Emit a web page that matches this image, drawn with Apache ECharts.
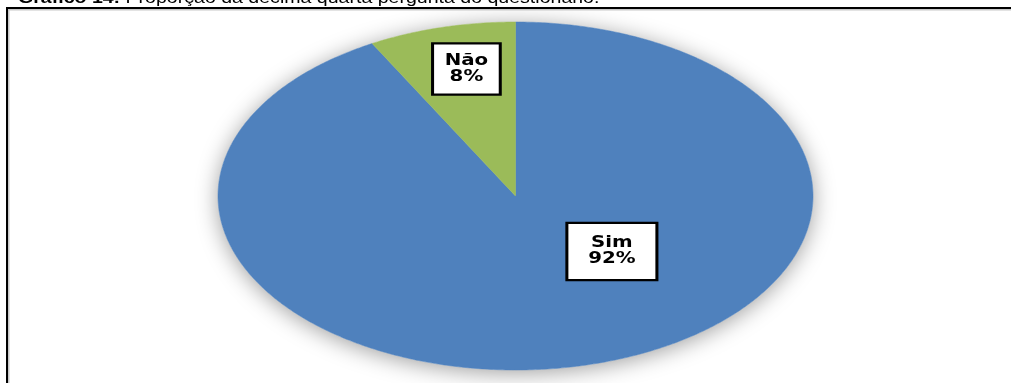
<!DOCTYPE html>
<html>
<head>
<meta charset="utf-8">
<script src="https://cdn.jsdelivr.net/npm/echarts@6/dist/echarts.min.js"></script>
<style>
  html, body { margin: 0; padding: 0; background: #fff; }
  #chart { width: 1011px; height: 383px; }
</style>
</head>
<body>
<div id="chart"></div>
<script>
// Answers to question 14
const categories = ['Sim', 'Não'];
const values = [92, 8];
const colors = ['#4F81BD', '#9BBB59'];

// Elliptical pie layout
const CX = 515.5, CY = 196, RX = 297.5, RY = 174;
// Label centres, as fractions of the radii from the centre
const labelAnchor = [[0.324, 0.319], [-0.165, -0.73]];
const labelPadding = [[11.5, 15], [8.5, 8]];
const TEXT_STRETCH = 1.32;

const total = values.reduce((a, b) => a + b, 0);
const starts = [];
values.reduce((acc, v, i) => { starts[i] = acc; return acc + v; }, 0);

function ellipsePoint(t) {
  // t measured clockwise from 12 o'clock
  return [CX + RX * Math.sin(t), CY - RY * Math.cos(t)];
}

function arcPoints(a0, a1, withCentre) {
  const pts = withCentre ? [[CX, CY]] : [];
  const n = Math.max(8, Math.ceil((a1 - a0) / 0.01));
  for (let k = 0; k <= n; k++) pts.push(ellipsePoint(a0 + (a1 - a0) * k / n));
  return pts;
}

function renderItem(params, api) {
  const i = params.dataIndex;
  const v = api.value(1);
  const a0 = starts[i] / total * Math.PI * 2;
  const a1 = (starts[i] + v) / total * Math.PI * 2;
  const children = [];
  if (i === 0) {
    // soft shadow under the whole pie
    children.push({
      type: 'polygon',
      shape: { points: arcPoints(0, Math.PI * 2, false) },
      style: { fill: '#ffffff', shadowBlur: 22, shadowColor: 'rgba(0,0,0,0.38)', shadowOffsetY: 3 },
      silent: true
    });
  }
  children.push({
    type: 'polygon',
    shape: { points: arcPoints(a0, a1, true) },
    style: { fill: colors[i], stroke: colors[i], lineWidth: 0.5 }
  });
  return { type: 'group', children: children };
}

function renderLabel(params, api) {
  const i = params.dataIndex;
  const v = api.value(1);
  const pct = Math.round(v / total * 100) + '%';
  return {
    type: 'text',
    x: CX + labelAnchor[i][0] * RX,
    y: CY + labelAnchor[i][1] * RY,
    scaleX: TEXT_STRETCH,
    z2: 10,
    style: {
      text: categories[i] + '\n' + pct,
      font: 'bold 15px "DejaVu Sans"',
      lineHeight: 16,
      fill: '#000',
      align: 'center',
      verticalAlign: 'middle',
      backgroundColor: '#fff',
      borderColor: '#000',
      borderWidth: 2.3,
      padding: labelPadding[i]
    }
  };
}

const seriesData = categories.map((c, i) => [c, values[i]]);

const chart = echarts.init(document.getElementById('chart'), null, { renderer: 'canvas' });
chart.setOption({
  backgroundColor: '#ffffff',
  animation: false,
  xAxis: { show: false, type: 'category', data: categories },
  yAxis: { show: false, type: 'value' },
  grid: { left: 0, right: 0, top: 0, bottom: 0 },
  series: [
    { type: 'custom', renderItem: renderItem, data: seriesData, z: 1 },
    { type: 'custom', renderItem: renderLabel, data: seriesData, z: 5 }
  ],
  graphic: [
    {
      type: 'text',
      x: 18, y: -1.5,
      scaleX: 1.15,
      style: {
        text: '{b|Gráfico 14:} Proporção da décima quarta pergunta do questionário.',
        font: '17px "Liberation Sans"',
        fill: '#000',
        verticalAlign: 'middle',
        rich: { b: { font: 'bold 17px "Liberation Sans"', fill: '#000' } }
      },
      z: 20
    },
    {
      type: 'polyline',
      shape: { points: [[1011, 9.75], [8.75, 9.75], [8.75, 383]] },
      style: { stroke: '#c8c8c8', lineWidth: 1.5, fill: null },
      z: 19
    },
    {
      type: 'polyline',
      shape: { points: [[1011, 8], [7, 8], [7, 383]] },
      style: { stroke: '#000', lineWidth: 2, fill: null },
      z: 20
    }
  ]
});
</script>
</body>
</html>
